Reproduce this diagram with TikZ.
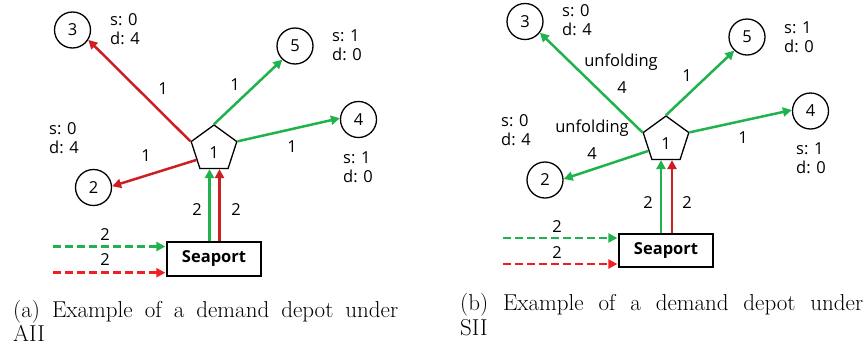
\documentclass[tikz,border=0pt]{standalone}
\usepackage{fontspec}
\newfontfamily\dfont{Open Sans}
\usetikzlibrary{arrows.meta,shapes.geometric,calc}
\definecolor{agreen}{RGB}{32,178,76}
\definecolor{ared}{RGB}{205,30,35}
\definecolor{dred}{RGB}{238,32,36}
\begin{document}
\begin{tikzpicture}[x=1pt,y=-1pt,
  every node/.style={font=\dfont\fontsize{16.5}{19}\selectfont, inner sep=0pt},
  city/.style={circle,draw,line width=1.3pt,minimum size=36pt},
  depot/.style={regular polygon,regular polygon sides=5,draw,line width=1.3pt,minimum size=48pt},
  port/.style={rectangle,draw,line width=1.3pt,minimum width=94pt,minimum height=#1,font=\dfont\bfseries\fontsize{16.5}{19}\selectfont},
  port/.default=34pt,
  garr/.style={draw=agreen,line width=2.5pt,-{Triangle[length=9pt,width=9pt]}},
  rarr/.style={draw=ared,line width=2.5pt,-{Triangle[length=9pt,width=9pt]}},
  gdash/.style={garr,line width=2.8pt,dash pattern=on 8pt off 4pt},
  rdash/.style={draw=dred,line width=2.8pt,dash pattern=on 8pt off 4pt,-{Triangle[length=9pt,width=9pt]}},
  info/.style={align=left},
  captext/.style={font=\rmfamily\fontsize{23}{26}\selectfont,anchor=base west}
]
\useasboundingbox (0,0) rectangle (865,354);

% ---------------- panel (a) ----------------
\node[city] (a3) at (72.5,30) {3};
\node[city] (a5) at (295,46) {5};
\node[city] (a4) at (358.5,119.5) {4};
\node[city] (a2) at (93.5,187.5) {2};
\node[depot] (ap) at (214,149) {};
\node (ap1) at (214,153) {1};
\node[port] (as) at (214,259) {Seaport};

\node[info] (ai3) at (125,29) {s: 0\\d: 4};
\node[info] (ai5) at (347,45) {s: 1\\d: 0};
\node[info] (ai4) at (358,167) {s: 1\\d: 0};
\node[info] (ai2) at (64,138) {s: 0\\d: 4};

\coordinate (aL) at ($(ap.corner 2)!0.67!(ap.corner 3)$);
\draw[rarr] (ap.corner 2) -- (a3.-32);
\draw[garr] (ap.corner 1) -- (a5.-133);
\draw[garr] (ap.corner 5) -- (a4.176);
\draw[rarr] (aL) -- (a2.4);
\draw[garr] ([xshift=-4.5pt]as.north) -- ([xshift=-4.5pt]as.north |- ap.side 3);
\draw[rarr] ([xshift=5.5pt]as.north) -- ([xshift=5.5pt]as.north |- ap.side 3);
\coordinate (agd) at (53,246.5);
\coordinate (ard) at (53,272.7);
\draw[gdash] (agd) -- ([xshift=-1pt]agd -| as.west);
\draw[rdash] (ard) -- ([xshift=-1pt]ard -| as.west);

\node (al1) at (163,89) {1};
\node (al2) at (235,85) {1};
\node (al3) at (292,147) {1};
\node (al4) at (146,156) {1};
\node (al5) at (197,210) {2};
\node (al6) at (236,210) {2};
\node (al7) at (105,235) {2};
\node (al8) at (105,260) {2};

% ---------------- panel (b) ----------------
\node[city] (b3) at (525,21.5) {3};
\node[city] (b5) at (747,37) {5};
\node[city] (b4) at (810.5,111) {4};
\node[city] (b2) at (545,180) {2};
\node[depot] (bp) at (666,140) {};
\node (bp1) at (666,144) {1};
\node[port=33pt] (bs) at (666,250.5) {Seaport};

\node[info] (bi3) at (577,20) {s: 0\\d: 4};
\node[info] (bi5) at (799,37) {s: 1\\d: 0};
\node[info] (bi4) at (811,158) {s: 1\\d: 0};
\node[info] (bi2) at (516,130) {s: 0\\d: 4};

\coordinate (bL) at ($(bp.corner 2)!0.67!(bp.corner 3)$);
\draw[garr] (bp.corner 2) -- (b3.-37);
\draw[garr] (bp.corner 1) -- (b5.-133);
\draw[garr] (bp.corner 5) -- (b4.177);
\draw[garr] (bL) -- (b2.3);
\draw[garr] ([xshift=-5pt]bs.north) -- ([xshift=-5pt]bs.north |- bp.side 3);
\draw[rarr] ([xshift=6pt]bs.north) -- ([xshift=6pt]bs.north |- bp.side 3);
\coordinate (bgd) at (503,238);
\coordinate (brd) at (503,264);
\draw[gdash] (bgd) -- ([xshift=-1pt]bgd -| bs.west);
\draw[rdash] (brd) -- ([xshift=-1pt]brd -| bs.west);

\node (bu1) at (621,62) {unfolding};
\node (bl1) at (622,88) {4};
\node (bl2) at (687,76) {1};
\node (bl3) at (743,138) {1};
\node (bu2) at (592,128) {unfolding};
\node (bl4) at (592,154) {4};
\node (bl5) at (648,203) {2};
\node (bl6) at (687,203) {2};
\node (bl7) at (557,227) {2};
\node (bl8) at (557,253) {2};

% ---------------- captions ----------------
\node[captext] (capa1) at (13,317.7) {\makebox[385pt][s]{(a) Example of a demand depot under}};
\node[captext] (capa2) at (13,341.7) {AII};
\node[captext] (capb1) at (460,310.7) {\makebox[403pt][s]{(b) Example of a demand depot under}};
\node[captext] (capb2) at (460,335) {SII};
\end{tikzpicture}
\end{document}
